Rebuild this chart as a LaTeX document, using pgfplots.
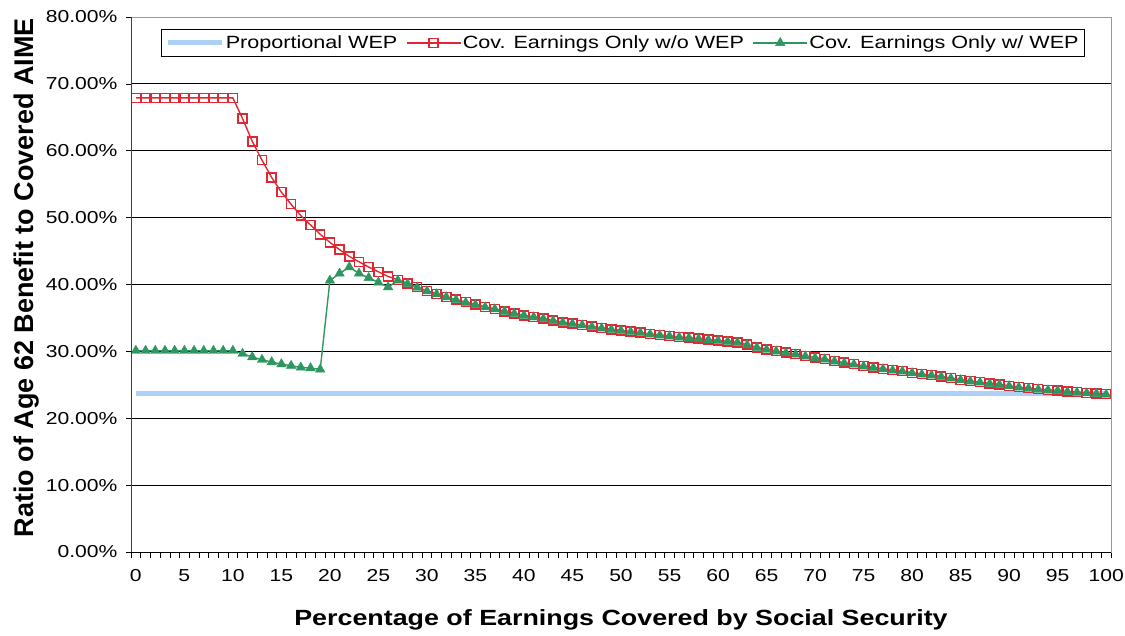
\documentclass[border=0pt]{standalone}
\usepackage{fontspec}
\setmainfont[FakeStretch=1.22]{Liberation Sans}
\newfontfamily\plainfont{Liberation Sans}
\usepackage{pgfplots}
\pgfplotsset{compat=1.18}
\definecolor{wepblue}{RGB}{173,208,247}
\definecolor{wepred}{RGB}{225,40,50}
\definecolor{wepgreen}{RGB}{46,150,96}
\begin{document}
\begin{tikzpicture}
\useasboundingbox (-131pt,-83pt) rectangle (994pt,552pt);
\begin{axis}[
  at={(0pt,0pt)}, anchor=south west,
  scale only axis, width=980pt, height=535pt,
  xmin=-0.5, xmax=100.5, ymin=0, ymax=80,
  axis line style={draw=gray!80},
  xtick pos=lower, ytick pos=left,
  ytick={0,10,...,80},
  yticklabels={0.00\%,10.00\%,20.00\%,30.00\%,40.00\%,50.00\%,60.00\%,70.00\%,80.00\%},
  xtick={0,5,...,100},
  xticklabels={0,5,10,15,20,25,30,35,40,45,50,55,60,65,70,75,80,85,90,95,100},
  minor xtick={-0.5,0.5,...,100.5},
  tick align=outside,
  major tick length=5pt,
  minor tick length=6pt,
  major x tick style={draw=none},
  minor x tick style={draw=black, line width=0.6pt},
  major y tick style={draw=black, line width=0.6pt},
  ymajorgrids,
  grid style={black, line width=0.8pt},
  ticklabel style={font=\fontsize{17.3pt}{20pt}\selectfont},
  yticklabel style={xshift=-5pt},
  xticklabel style={yshift=-9pt},
  xlabel={Percentage of Earnings Covered by Social Security},
  ylabel={\plainfont Ratio of Age 62 Benefit to Covered AIME},
  xlabel style={at={(axis description cs:0.5,-0.1262)}, anchor=center, font=\bfseries\fontsize{22pt}{25pt}\selectfont},
  ylabel style={at={(axis description cs:-0.1061,0.513)}, anchor=center, rotate=0, font=\bfseries\fontsize{27pt}{30pt}\selectfont},
  legend columns=3,
  legend style={at={(axis description cs:0.0306,0.9776)}, anchor=north west,
    draw=black, line width=0.6pt, fill=white,
    font=\fontsize{17.7pt}{21pt}\selectfont,
    nodes={inner xsep=1.5pt, inner ysep=3.5pt},
    inner xsep=4pt, inner ysep=3pt,
    /tikz/every even column/.append style={column sep=7pt}},
  legend image code/.code={\draw[mark repeat=2,mark phase=2] plot coordinates {(0pt,0pt) (27pt,0pt) (54pt,0pt)};},
  after end axis/.code={
    \draw[black, line width=0.8pt] (rel axis cs:0,0) -- (rel axis cs:1,0);
    \draw[gray!50!black, line width=0.8pt] (rel axis cs:0,0) -- (rel axis cs:0,1);
  },
]
\addplot[wepblue, line width=5pt, no marks] coordinates {(0,23.66) (100,23.66)};
\addlegendentry{Proportional WEP}

\addplot[wepred, line width=1.4pt, mark=square, mark size=4.5pt, mark options={line width=1.5pt}] table {
x y
0 67.9
1 67.9
2 67.9
3 67.9
4 67.9
5 67.9
6 67.9
7 67.9
8 67.9
9 67.9
10 67.9
11 64.8
12 61.4
13 58.6
14 56.0
15 53.8
16 52.0
17 50.3
18 48.9
19 47.5
20 46.3
21 45.2
22 44.2
23 43.4
24 42.6
25 41.9
26 41.2
27 40.7
28 40.15
29 39.6
30 39.05
31 38.6
32 38.15
33 37.75
34 37.35
35 37.0
36 36.65
37 36.35
38 36.0
39 35.7
40 35.4
41 35.15
42 34.9
43 34.6
44 34.35
45 34.15
46 33.95
47 33.7
48 33.5
49 33.3
50 33.15
51 32.95
52 32.8
53 32.6
54 32.45
55 32.3
56 32.15
57 32.05
58 31.9
59 31.75
60 31.65
61 31.5
62 31.35
63 31.0
64 30.6
65 30.3
66 30.05
67 29.8
68 29.6
69 29.3
70 29.05
71 28.85
72 28.55
73 28.3
74 28.1
75 27.8
76 27.6
77 27.4
78 27.2
79 27.05
80 26.8
81 26.6
82 26.45
83 26.25
84 26.0
85 25.75
86 25.55
87 25.4
88 25.2
89 25.05
90 24.85
91 24.65
92 24.5
93 24.35
94 24.25
95 24.15
96 24.0
97 23.9
98 23.8
99 23.7
100 23.6
};
\addlegendentry{Cov. Earnings Only w/o WEP}

\addplot[wepgreen, line width=1.4pt, mark=triangle*, mark size=5.5pt, mark options={line width=0.4pt}] table {
x y
0 30.1
1 30.1
2 30.1
3 30.1
4 30.1
5 30.1
6 30.1
7 30.1
8 30.1
9 30.1
10 30.1
11 29.65
12 29.15
13 28.75
14 28.4
15 28.1
16 27.85
17 27.6
18 27.5
19 27.3
20 40.6
21 41.65
22 42.6
23 41.65
24 41.0
25 40.3
26 39.6
27 40.6
28 40.1
29 39.55
30 39.0
31 38.55
32 38.1
33 37.7
34 37.3
35 36.95
36 36.6
37 36.3
38 35.95
39 35.65
40 35.35
41 35.1
42 34.85
43 34.55
44 34.3
45 34.1
46 33.9
47 33.65
48 33.45
49 33.25
50 33.1
51 32.9
52 32.75
53 32.55
54 32.4
55 32.25
56 32.1
57 32.0
58 31.85
59 31.7
60 31.6
61 31.45
62 31.3
63 30.95
64 30.55
65 30.25
66 30.0
67 29.75
68 29.55
69 29.25
70 29.0
71 28.8
72 28.5
73 28.25
74 28.05
75 27.75
76 27.55
77 27.35
78 27.15
79 27.0
80 26.75
81 26.55
82 26.4
83 26.2
84 25.95
85 25.7
86 25.5
87 25.35
88 25.15
89 25.0
90 24.8
91 24.6
92 24.45
93 24.3
94 24.2
95 24.1
96 23.95
97 23.85
98 23.75
99 23.65
100 23.55
};
\addlegendentry{Cov. Earnings Only w/ WEP}
\end{axis}
\end{tikzpicture}
\end{document}
